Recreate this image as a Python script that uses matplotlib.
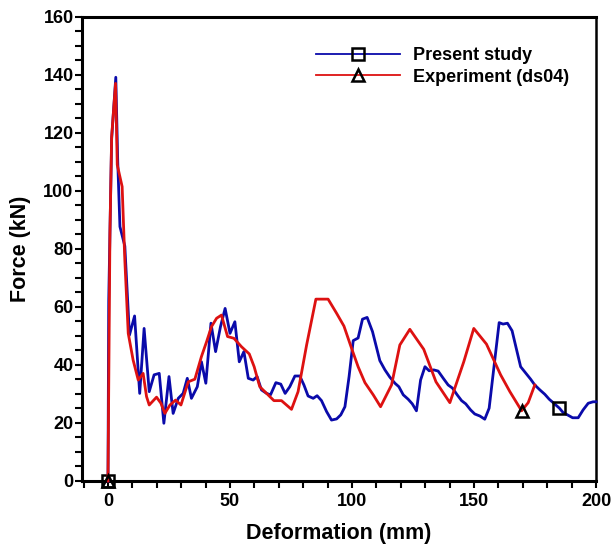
import matplotlib
matplotlib.use('Agg')
import matplotlib.pyplot as plt
from matplotlib.ticker import MultipleLocator

plt.rcParams['font.family'] = ['Liberation Sans', 'DejaVu Sans']
plt.rcParams['font.weight'] = 'bold'

# Present study (numerical) - deformation (mm) and force (kN)
deform_study = [0, 0.3, 1.5, 3.2, 4.0, 4.9, 6.9, 8.8, 10.9, 13.0, 14.8, 16.9, 18.9,
                21.0, 22.9, 25.0, 26.7, 28.8, 30.8, 32.5, 34.2, 36.6, 38.3, 40.1,
                42.2, 44.1, 46.1, 48.0, 50.0, 52.0, 53.8, 55.7, 57.5, 59.5, 61.1,
                62.9, 65.0, 66.6, 68.8, 70.8, 72.6, 74.5, 76.6, 78.6, 80.3, 82.0,
                84.1, 85.7, 87.5, 89.6, 91.6, 93.7, 95.4, 97.1, 98.8, 100.5, 102.5,
                104.3, 106.2, 108.4, 111.4, 113.5, 115.5, 117.6, 119.2, 121.0,
                123.0, 124.7, 126.4, 128.1, 129.9, 131.6, 133.5, 135.3, 137.4,
                139.4, 141.2, 143.1, 144.9, 146.6, 148.6, 150.3, 152.4, 154.4,
                156.2, 158.5, 160.3, 161.9, 163.7, 165.6, 167.4, 169.1, 171.1,
                173.2, 174.9, 177.0, 179.0, 180.8, 182.7, 185.0, 186.5, 188.3,
                190.4, 192.7, 194.7, 196.8, 198.8, 200.0]
force_study = [0, 62, 118, 139.2, 110, 87.7, 81.0, 50.3, 56.9, 30.2, 52.6, 30.8, 36.6,
               37.1, 19.9, 36.0, 23.3, 28.5, 30.2, 35.4, 28.5, 32.5, 41.1, 33.7,
               54.4, 44.6, 53.2, 59.5, 50.9, 54.9, 41.1, 44.6, 35.4, 34.8, 36.0,
               31.4, 30.2, 29.7, 33.9, 33.4, 30.2, 32.5, 36.2, 36.2, 33.1, 29.3,
               28.5, 29.4, 27.7, 23.9, 21.0, 21.4, 22.8, 25.6, 36.0, 48.4, 49.3,
               55.8, 56.4, 51.5, 41.5, 38.3, 35.8, 33.7, 32.5, 29.7,
               28.2, 26.6, 24.2, 34.8, 39.4, 38.0, 38.3, 37.9, 35.4,
               33.1, 32.0, 29.7, 27.7, 26.6, 24.5, 23.1, 22.4, 21.3,
               25.1, 41.7, 54.6, 54.1, 54.4, 51.8, 45.4, 39.4, 37.3,
               35.1, 33.1, 31.4, 29.9, 28.2, 26.8, 25.1, 23.6, 22.8,
               21.8, 21.8, 24.5, 26.8, 27.3, 27.3]

# Experiment (ds04)
deform_exp = [0, 0.8, 1.5, 3.1, 3.8, 5.8, 6.9, 8.3, 10.3, 12.4, 14.4, 15.8, 16.9,
              19.9, 21.7, 23.3, 25.4, 27.7, 29.9, 32.9, 35.6, 38.3, 40.4, 42.4,
              44.5, 46.5, 49.0, 51.6, 54.7, 57.9, 59.9, 62.2, 65.0, 68.0, 71.1,
              75.2, 77.9, 81.4, 85.2, 90.2, 93.7, 96.7, 99.8, 102.5, 105.3,
              108.7, 111.7, 116.2, 119.6, 123.7, 129.4, 134.4, 140.1, 145.8,
              149.9, 155.1, 160.9, 164.7, 169.5, 172.2, 174.9]
force_exp = [0, 85.5, 118.7, 137.1, 109.0, 101.5, 76.2, 50.9, 41.7, 34.8, 37.1, 29.1, 26.2,
             28.9, 26.8, 23.3, 26.2, 27.9, 26.2, 34.2, 35.1, 42.9, 48.0, 53.2,
             56.1, 57.2, 49.8, 49.2, 46.3, 43.8, 39.4, 32.5, 30.2, 27.7, 27.7,
             24.7, 30.8, 46.9, 62.7, 62.7, 57.8, 53.4, 45.8, 39.4, 33.9,
             29.7, 25.6, 33.1, 46.9, 52.3, 45.4, 34.2, 27.0, 41.1,
             52.6, 47.2, 36.6, 30.8, 24.2, 27.0, 33.1]

fig = plt.figure(figsize=(6.11, 5.47), dpi=100)
ax = fig.add_subplot(111)
fig.subplots_adjust(left=0.134, right=0.9755, bottom=0.1207, top=0.969)

ax.plot(deform_study, force_study, color='#0A0AAA', lw=2, marker='s',
        markevery=[0, 99], ms=8.5, mfc='none', mec='black', mew=1.8,
        label='Present study', clip_on=False, zorder=3)
ax.plot(deform_exp, force_exp, color='#DD1111', lw=2, marker='^',
        markevery=[0, 58], ms=9, mfc='none', mec='black', mew=1.8,
        label='Experiment (ds04)', clip_on=False, zorder=4)

ax.set_xlim(-10.7, 200)
ax.set_ylim(0, 160)
ax.xaxis.set_major_locator(MultipleLocator(50))
ax.xaxis.set_minor_locator(MultipleLocator(10))
ax.yaxis.set_major_locator(MultipleLocator(20))
ax.yaxis.set_minor_locator(MultipleLocator(5))
ax.tick_params(which='both', direction='out', width=1.5, length=5, labelsize=13)
ax.tick_params(axis='y', which='major', pad=1)
ax.tick_params(axis='x', which='major', pad=4)

for side in ['left', 'bottom', 'top']:
    ax.spines[side].set_linewidth(2.2)
ax.spines['right'].set_linewidth(1.8)

ax.set_xlabel('Deformation (mm)', fontsize=15.5, fontweight='bold', labelpad=9)
ax.set_ylabel('Force (kN)', fontsize=15.5, fontweight='bold', labelpad=9)

leg = ax.legend(loc='upper left', bbox_to_anchor=(0.455, 0.935), frameon=False,
                fontsize=13, handlelength=4.65, handletextpad=0.72,
                labelspacing=0.25, borderaxespad=0, borderpad=0)
for line in leg.get_lines():
    line.set_linewidth(1.3)

plt.savefig('out.png', dpi=100)
